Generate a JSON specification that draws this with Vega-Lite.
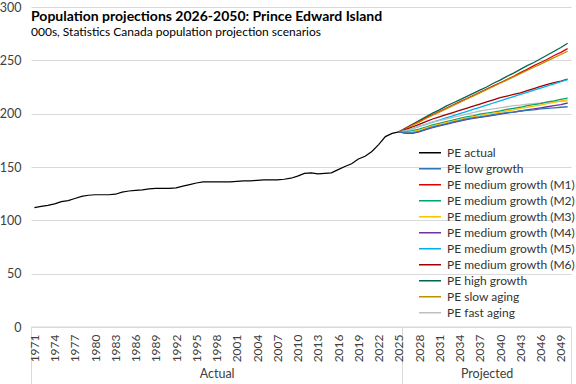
{
  "$schema": "https://vega.github.io/schema/vega-lite/v6.json",
  "autosize": "none",
  "width": 540,
  "height": 320,
  "padding": {"left": 31, "top": 7, "right": 5, "bottom": 57},
  "background": "white",
  "config": {
    "view": {"stroke": null},
    "font": "Lato",
    "axis": {"labelFont": "Lato", "labelColor": "#404040"},
    "legend": {"labelFont": "Lato"}
  },
  "title": {
    "text": "Population projections 2026-2050: Prince Edward Island",
    "subtitle": "000s, Statistics Canada population projection scenarios",
    "anchor": "start",
    "frame": "group",
    "orient": "top",
    "offset": -37,
    "font": "Lato",
    "fontSize": 14,
    "fontWeight": "bold",
    "color": "#000000",
    "subtitleFont": "Lato",
    "subtitleFontSize": 12,
    "subtitleColor": "#000000",
    "subtitlePadding": 3
  },
  "datasets": {
    "actual": [
      {"year": 1971, "value": 112.0, "series": "PE actual"},
      {"year": 1972, "value": 113.0, "series": "PE actual"},
      {"year": 1973, "value": 114.0, "series": "PE actual"},
      {"year": 1974, "value": 115.5, "series": "PE actual"},
      {"year": 1975, "value": 117.5, "series": "PE actual"},
      {"year": 1976, "value": 118.5, "series": "PE actual"},
      {"year": 1977, "value": 120.5, "series": "PE actual"},
      {"year": 1978, "value": 122.5, "series": "PE actual"},
      {"year": 1979, "value": 123.5, "series": "PE actual"},
      {"year": 1980, "value": 124.0, "series": "PE actual"},
      {"year": 1981, "value": 124.0, "series": "PE actual"},
      {"year": 1982, "value": 124.0, "series": "PE actual"},
      {"year": 1983, "value": 124.5, "series": "PE actual"},
      {"year": 1984, "value": 126.5, "series": "PE actual"},
      {"year": 1985, "value": 127.5, "series": "PE actual"},
      {"year": 1986, "value": 128.0, "series": "PE actual"},
      {"year": 1987, "value": 128.5, "series": "PE actual"},
      {"year": 1988, "value": 129.5, "series": "PE actual"},
      {"year": 1989, "value": 130.0, "series": "PE actual"},
      {"year": 1990, "value": 130.0, "series": "PE actual"},
      {"year": 1991, "value": 130.0, "series": "PE actual"},
      {"year": 1992, "value": 130.5, "series": "PE actual"},
      {"year": 1993, "value": 132.0, "series": "PE actual"},
      {"year": 1994, "value": 133.5, "series": "PE actual"},
      {"year": 1995, "value": 135.0, "series": "PE actual"},
      {"year": 1996, "value": 136.0, "series": "PE actual"},
      {"year": 1997, "value": 136.0, "series": "PE actual"},
      {"year": 1998, "value": 136.0, "series": "PE actual"},
      {"year": 1999, "value": 136.0, "series": "PE actual"},
      {"year": 2000, "value": 136.0, "series": "PE actual"},
      {"year": 2001, "value": 136.5, "series": "PE actual"},
      {"year": 2002, "value": 137.0, "series": "PE actual"},
      {"year": 2003, "value": 137.0, "series": "PE actual"},
      {"year": 2004, "value": 137.5, "series": "PE actual"},
      {"year": 2005, "value": 138.0, "series": "PE actual"},
      {"year": 2006, "value": 138.0, "series": "PE actual"},
      {"year": 2007, "value": 138.0, "series": "PE actual"},
      {"year": 2008, "value": 138.5, "series": "PE actual"},
      {"year": 2009, "value": 139.5, "series": "PE actual"},
      {"year": 2010, "value": 141.5, "series": "PE actual"},
      {"year": 2011, "value": 144.0, "series": "PE actual"},
      {"year": 2012, "value": 144.5, "series": "PE actual"},
      {"year": 2013, "value": 143.5, "series": "PE actual"},
      {"year": 2014, "value": 144.0, "series": "PE actual"},
      {"year": 2015, "value": 144.5, "series": "PE actual"},
      {"year": 2016, "value": 147.5, "series": "PE actual"},
      {"year": 2017, "value": 150.5, "series": "PE actual"},
      {"year": 2018, "value": 153.0, "series": "PE actual"},
      {"year": 2019, "value": 157.5, "series": "PE actual"},
      {"year": 2020, "value": 160.0, "series": "PE actual"},
      {"year": 2021, "value": 164.5, "series": "PE actual"},
      {"year": 2022, "value": 171.0, "series": "PE actual"},
      {"year": 2023, "value": 178.5, "series": "PE actual"},
      {"year": 2024, "value": 181.5, "series": "PE actual"},
      {"year": 2025, "value": 183.0, "series": "PE actual"}
    ],
    "proj": [
      {"series": "PE high growth", "year": 2025, "value": 183.0},
      {"series": "PE high growth", "year": 2026, "value": 186.5},
      {"series": "PE high growth", "year": 2027, "value": 190.0},
      {"series": "PE high growth", "year": 2028, "value": 193.5},
      {"series": "PE high growth", "year": 2029, "value": 197.0},
      {"series": "PE high growth", "year": 2030, "value": 200.5},
      {"series": "PE high growth", "year": 2031, "value": 203.5},
      {"series": "PE high growth", "year": 2032, "value": 207.0},
      {"series": "PE high growth", "year": 2033, "value": 210.0},
      {"series": "PE high growth", "year": 2034, "value": 213.0},
      {"series": "PE high growth", "year": 2035, "value": 216.0},
      {"series": "PE high growth", "year": 2036, "value": 219.0},
      {"series": "PE high growth", "year": 2037, "value": 222.0},
      {"series": "PE high growth", "year": 2038, "value": 225.0},
      {"series": "PE high growth", "year": 2039, "value": 228.5},
      {"series": "PE high growth", "year": 2040, "value": 231.5},
      {"series": "PE high growth", "year": 2041, "value": 235.0},
      {"series": "PE high growth", "year": 2042, "value": 238.0},
      {"series": "PE high growth", "year": 2043, "value": 241.5},
      {"series": "PE high growth", "year": 2044, "value": 245.0},
      {"series": "PE high growth", "year": 2045, "value": 248.0},
      {"series": "PE high growth", "year": 2046, "value": 251.5},
      {"series": "PE high growth", "year": 2047, "value": 255.0},
      {"series": "PE high growth", "year": 2048, "value": 258.5},
      {"series": "PE high growth", "year": 2049, "value": 262.0},
      {"series": "PE high growth", "year": 2050, "value": 266.0},

      {"series": "PE medium growth (M1)", "year": 2025, "value": 183.0},
      {"series": "PE medium growth (M1)", "year": 2026, "value": 186.0},
      {"series": "PE medium growth (M1)", "year": 2027, "value": 189.5},
      {"series": "PE medium growth (M1)", "year": 2028, "value": 192.5},
      {"series": "PE medium growth (M1)", "year": 2029, "value": 196.0},
      {"series": "PE medium growth (M1)", "year": 2030, "value": 199.0},
      {"series": "PE medium growth (M1)", "year": 2031, "value": 202.0},
      {"series": "PE medium growth (M1)", "year": 2032, "value": 205.0},
      {"series": "PE medium growth (M1)", "year": 2033, "value": 208.0},
      {"series": "PE medium growth (M1)", "year": 2034, "value": 211.0},
      {"series": "PE medium growth (M1)", "year": 2035, "value": 214.0},
      {"series": "PE medium growth (M1)", "year": 2036, "value": 217.0},
      {"series": "PE medium growth (M1)", "year": 2037, "value": 220.0},
      {"series": "PE medium growth (M1)", "year": 2038, "value": 223.0},
      {"series": "PE medium growth (M1)", "year": 2039, "value": 226.0},
      {"series": "PE medium growth (M1)", "year": 2040, "value": 229.0},
      {"series": "PE medium growth (M1)", "year": 2041, "value": 232.0},
      {"series": "PE medium growth (M1)", "year": 2042, "value": 235.0},
      {"series": "PE medium growth (M1)", "year": 2043, "value": 238.5},
      {"series": "PE medium growth (M1)", "year": 2044, "value": 241.5},
      {"series": "PE medium growth (M1)", "year": 2045, "value": 245.0},
      {"series": "PE medium growth (M1)", "year": 2046, "value": 248.0},
      {"series": "PE medium growth (M1)", "year": 2047, "value": 251.0},
      {"series": "PE medium growth (M1)", "year": 2048, "value": 254.5},
      {"series": "PE medium growth (M1)", "year": 2049, "value": 257.5},
      {"series": "PE medium growth (M1)", "year": 2050, "value": 261.0},

      {"series": "PE slow aging", "year": 2025, "value": 183.0},
      {"series": "PE slow aging", "year": 2026, "value": 185.5},
      {"series": "PE slow aging", "year": 2027, "value": 189.0},
      {"series": "PE slow aging", "year": 2028, "value": 192.0},
      {"series": "PE slow aging", "year": 2029, "value": 195.5},
      {"series": "PE slow aging", "year": 2030, "value": 198.5},
      {"series": "PE slow aging", "year": 2031, "value": 201.5},
      {"series": "PE slow aging", "year": 2032, "value": 204.5},
      {"series": "PE slow aging", "year": 2033, "value": 207.5},
      {"series": "PE slow aging", "year": 2034, "value": 210.5},
      {"series": "PE slow aging", "year": 2035, "value": 213.5},
      {"series": "PE slow aging", "year": 2036, "value": 216.5},
      {"series": "PE slow aging", "year": 2037, "value": 219.5},
      {"series": "PE slow aging", "year": 2038, "value": 222.5},
      {"series": "PE slow aging", "year": 2039, "value": 225.5},
      {"series": "PE slow aging", "year": 2040, "value": 228.5},
      {"series": "PE slow aging", "year": 2041, "value": 231.5},
      {"series": "PE slow aging", "year": 2042, "value": 234.5},
      {"series": "PE slow aging", "year": 2043, "value": 237.5},
      {"series": "PE slow aging", "year": 2044, "value": 240.5},
      {"series": "PE slow aging", "year": 2045, "value": 243.5},
      {"series": "PE slow aging", "year": 2046, "value": 246.5},
      {"series": "PE slow aging", "year": 2047, "value": 249.5},
      {"series": "PE slow aging", "year": 2048, "value": 252.5},
      {"series": "PE slow aging", "year": 2049, "value": 255.5},
      {"series": "PE slow aging", "year": 2050, "value": 258.5},

      {"series": "PE medium growth (M6)", "year": 2025, "value": 183.0},
      {"series": "PE medium growth (M6)", "year": 2026, "value": 185.0},
      {"series": "PE medium growth (M6)", "year": 2027, "value": 187.5},
      {"series": "PE medium growth (M6)", "year": 2028, "value": 190.0},
      {"series": "PE medium growth (M6)", "year": 2029, "value": 192.5},
      {"series": "PE medium growth (M6)", "year": 2030, "value": 195.0},
      {"series": "PE medium growth (M6)", "year": 2031, "value": 197.0},
      {"series": "PE medium growth (M6)", "year": 2032, "value": 199.0},
      {"series": "PE medium growth (M6)", "year": 2033, "value": 201.0},
      {"series": "PE medium growth (M6)", "year": 2034, "value": 203.0},
      {"series": "PE medium growth (M6)", "year": 2035, "value": 205.0},
      {"series": "PE medium growth (M6)", "year": 2036, "value": 207.0},
      {"series": "PE medium growth (M6)", "year": 2037, "value": 209.0},
      {"series": "PE medium growth (M6)", "year": 2038, "value": 211.0},
      {"series": "PE medium growth (M6)", "year": 2039, "value": 213.0},
      {"series": "PE medium growth (M6)", "year": 2040, "value": 215.0},
      {"series": "PE medium growth (M6)", "year": 2041, "value": 216.5},
      {"series": "PE medium growth (M6)", "year": 2042, "value": 218.0},
      {"series": "PE medium growth (M6)", "year": 2043, "value": 219.5},
      {"series": "PE medium growth (M6)", "year": 2044, "value": 221.5},
      {"series": "PE medium growth (M6)", "year": 2045, "value": 223.5},
      {"series": "PE medium growth (M6)", "year": 2046, "value": 225.5},
      {"series": "PE medium growth (M6)", "year": 2047, "value": 227.5},
      {"series": "PE medium growth (M6)", "year": 2048, "value": 229.0},
      {"series": "PE medium growth (M6)", "year": 2049, "value": 230.5},
      {"series": "PE medium growth (M6)", "year": 2050, "value": 232.5},

      {"series": "PE medium growth (M5)", "year": 2025, "value": 183.0},
      {"series": "PE medium growth (M5)", "year": 2026, "value": 184.0},
      {"series": "PE medium growth (M5)", "year": 2027, "value": 186.0},
      {"series": "PE medium growth (M5)", "year": 2028, "value": 188.0},
      {"series": "PE medium growth (M5)", "year": 2029, "value": 190.0},
      {"series": "PE medium growth (M5)", "year": 2030, "value": 192.0},
      {"series": "PE medium growth (M5)", "year": 2031, "value": 194.0},
      {"series": "PE medium growth (M5)", "year": 2032, "value": 196.0},
      {"series": "PE medium growth (M5)", "year": 2033, "value": 198.0},
      {"series": "PE medium growth (M5)", "year": 2034, "value": 200.0},
      {"series": "PE medium growth (M5)", "year": 2035, "value": 202.0},
      {"series": "PE medium growth (M5)", "year": 2036, "value": 204.0},
      {"series": "PE medium growth (M5)", "year": 2037, "value": 206.0},
      {"series": "PE medium growth (M5)", "year": 2038, "value": 208.0},
      {"series": "PE medium growth (M5)", "year": 2039, "value": 210.0},
      {"series": "PE medium growth (M5)", "year": 2040, "value": 212.0},
      {"series": "PE medium growth (M5)", "year": 2041, "value": 214.0},
      {"series": "PE medium growth (M5)", "year": 2042, "value": 216.0},
      {"series": "PE medium growth (M5)", "year": 2043, "value": 218.0},
      {"series": "PE medium growth (M5)", "year": 2044, "value": 220.0},
      {"series": "PE medium growth (M5)", "year": 2045, "value": 222.0},
      {"series": "PE medium growth (M5)", "year": 2046, "value": 224.0},
      {"series": "PE medium growth (M5)", "year": 2047, "value": 226.0},
      {"series": "PE medium growth (M5)", "year": 2048, "value": 228.0},
      {"series": "PE medium growth (M5)", "year": 2049, "value": 230.0},
      {"series": "PE medium growth (M5)", "year": 2050, "value": 232.0},

      {"series": "PE fast aging", "year": 2025, "value": 183.0},
      {"series": "PE fast aging", "year": 2026, "value": 184.0},
      {"series": "PE fast aging", "year": 2027, "value": 186.0},
      {"series": "PE fast aging", "year": 2028, "value": 188.0},
      {"series": "PE fast aging", "year": 2029, "value": 190.0},
      {"series": "PE fast aging", "year": 2030, "value": 192.0},
      {"series": "PE fast aging", "year": 2031, "value": 193.5},
      {"series": "PE fast aging", "year": 2032, "value": 195.0},
      {"series": "PE fast aging", "year": 2033, "value": 196.5},
      {"series": "PE fast aging", "year": 2034, "value": 198.0},
      {"series": "PE fast aging", "year": 2035, "value": 199.5},
      {"series": "PE fast aging", "year": 2036, "value": 201.0},
      {"series": "PE fast aging", "year": 2037, "value": 202.5},
      {"series": "PE fast aging", "year": 2038, "value": 203.5},
      {"series": "PE fast aging", "year": 2039, "value": 204.5},
      {"series": "PE fast aging", "year": 2040, "value": 205.5},
      {"series": "PE fast aging", "year": 2041, "value": 206.5},
      {"series": "PE fast aging", "year": 2042, "value": 207.5},
      {"series": "PE fast aging", "year": 2043, "value": 208.0},
      {"series": "PE fast aging", "year": 2044, "value": 209.0},
      {"series": "PE fast aging", "year": 2045, "value": 209.5},
      {"series": "PE fast aging", "year": 2046, "value": 210.0},
      {"series": "PE fast aging", "year": 2047, "value": 210.5},
      {"series": "PE fast aging", "year": 2048, "value": 211.0},
      {"series": "PE fast aging", "year": 2049, "value": 211.5},
      {"series": "PE fast aging", "year": 2050, "value": 212.0},

      {"series": "PE medium growth (M2)", "year": 2025, "value": 183.0},
      {"series": "PE medium growth (M2)", "year": 2026, "value": 183.0},
      {"series": "PE medium growth (M2)", "year": 2027, "value": 184.0},
      {"series": "PE medium growth (M2)", "year": 2028, "value": 185.5},
      {"series": "PE medium growth (M2)", "year": 2029, "value": 187.5},
      {"series": "PE medium growth (M2)", "year": 2030, "value": 189.5},
      {"series": "PE medium growth (M2)", "year": 2031, "value": 191.0},
      {"series": "PE medium growth (M2)", "year": 2032, "value": 192.5},
      {"series": "PE medium growth (M2)", "year": 2033, "value": 194.0},
      {"series": "PE medium growth (M2)", "year": 2034, "value": 195.5},
      {"series": "PE medium growth (M2)", "year": 2035, "value": 197.0},
      {"series": "PE medium growth (M2)", "year": 2036, "value": 198.0},
      {"series": "PE medium growth (M2)", "year": 2037, "value": 199.5},
      {"series": "PE medium growth (M2)", "year": 2038, "value": 200.5},
      {"series": "PE medium growth (M2)", "year": 2039, "value": 201.5},
      {"series": "PE medium growth (M2)", "year": 2040, "value": 202.5},
      {"series": "PE medium growth (M2)", "year": 2041, "value": 204.0},
      {"series": "PE medium growth (M2)", "year": 2042, "value": 205.0},
      {"series": "PE medium growth (M2)", "year": 2043, "value": 206.0},
      {"series": "PE medium growth (M2)", "year": 2044, "value": 207.5},
      {"series": "PE medium growth (M2)", "year": 2045, "value": 208.5},
      {"series": "PE medium growth (M2)", "year": 2046, "value": 209.5},
      {"series": "PE medium growth (M2)", "year": 2047, "value": 211.0},
      {"series": "PE medium growth (M2)", "year": 2048, "value": 212.0},
      {"series": "PE medium growth (M2)", "year": 2049, "value": 213.5},
      {"series": "PE medium growth (M2)", "year": 2050, "value": 214.5},

      {"series": "PE medium growth (M3)", "year": 2025, "value": 183.0},
      {"series": "PE medium growth (M3)", "year": 2026, "value": 182.5},
      {"series": "PE medium growth (M3)", "year": 2027, "value": 183.0},
      {"series": "PE medium growth (M3)", "year": 2028, "value": 184.5},
      {"series": "PE medium growth (M3)", "year": 2029, "value": 186.5},
      {"series": "PE medium growth (M3)", "year": 2030, "value": 188.5},
      {"series": "PE medium growth (M3)", "year": 2031, "value": 190.0},
      {"series": "PE medium growth (M3)", "year": 2032, "value": 191.5},
      {"series": "PE medium growth (M3)", "year": 2033, "value": 193.0},
      {"series": "PE medium growth (M3)", "year": 2034, "value": 194.5},
      {"series": "PE medium growth (M3)", "year": 2035, "value": 196.0},
      {"series": "PE medium growth (M3)", "year": 2036, "value": 197.0},
      {"series": "PE medium growth (M3)", "year": 2037, "value": 198.0},
      {"series": "PE medium growth (M3)", "year": 2038, "value": 199.5},
      {"series": "PE medium growth (M3)", "year": 2039, "value": 200.5},
      {"series": "PE medium growth (M3)", "year": 2040, "value": 201.5},
      {"series": "PE medium growth (M3)", "year": 2041, "value": 202.5},
      {"series": "PE medium growth (M3)", "year": 2042, "value": 203.5},
      {"series": "PE medium growth (M3)", "year": 2043, "value": 205.0},
      {"series": "PE medium growth (M3)", "year": 2044, "value": 206.0},
      {"series": "PE medium growth (M3)", "year": 2045, "value": 207.0},
      {"series": "PE medium growth (M3)", "year": 2046, "value": 208.0},
      {"series": "PE medium growth (M3)", "year": 2047, "value": 209.5},
      {"series": "PE medium growth (M3)", "year": 2048, "value": 210.5},
      {"series": "PE medium growth (M3)", "year": 2049, "value": 212.0},
      {"series": "PE medium growth (M3)", "year": 2050, "value": 213.0},

      {"series": "PE medium growth (M4)", "year": 2025, "value": 183.0},
      {"series": "PE medium growth (M4)", "year": 2026, "value": 181.5},
      {"series": "PE medium growth (M4)", "year": 2027, "value": 181.5},
      {"series": "PE medium growth (M4)", "year": 2028, "value": 183.0},
      {"series": "PE medium growth (M4)", "year": 2029, "value": 185.0},
      {"series": "PE medium growth (M4)", "year": 2030, "value": 187.0},
      {"series": "PE medium growth (M4)", "year": 2031, "value": 188.5},
      {"series": "PE medium growth (M4)", "year": 2032, "value": 190.0},
      {"series": "PE medium growth (M4)", "year": 2033, "value": 191.5},
      {"series": "PE medium growth (M4)", "year": 2034, "value": 193.0},
      {"series": "PE medium growth (M4)", "year": 2035, "value": 194.5},
      {"series": "PE medium growth (M4)", "year": 2036, "value": 195.5},
      {"series": "PE medium growth (M4)", "year": 2037, "value": 196.5},
      {"series": "PE medium growth (M4)", "year": 2038, "value": 197.5},
      {"series": "PE medium growth (M4)", "year": 2039, "value": 198.5},
      {"series": "PE medium growth (M4)", "year": 2040, "value": 199.5},
      {"series": "PE medium growth (M4)", "year": 2041, "value": 200.5},
      {"series": "PE medium growth (M4)", "year": 2042, "value": 201.5},
      {"series": "PE medium growth (M4)", "year": 2043, "value": 202.5},
      {"series": "PE medium growth (M4)", "year": 2044, "value": 203.5},
      {"series": "PE medium growth (M4)", "year": 2045, "value": 204.5},
      {"series": "PE medium growth (M4)", "year": 2046, "value": 205.5},
      {"series": "PE medium growth (M4)", "year": 2047, "value": 206.5},
      {"series": "PE medium growth (M4)", "year": 2048, "value": 207.5},
      {"series": "PE medium growth (M4)", "year": 2049, "value": 208.5},
      {"series": "PE medium growth (M4)", "year": 2050, "value": 210.0},

      {"series": "PE low growth", "year": 2025, "value": 183.0},
      {"series": "PE low growth", "year": 2026, "value": 182.0},
      {"series": "PE low growth", "year": 2027, "value": 182.0},
      {"series": "PE low growth", "year": 2028, "value": 183.5},
      {"series": "PE low growth", "year": 2029, "value": 185.5},
      {"series": "PE low growth", "year": 2030, "value": 187.5},
      {"series": "PE low growth", "year": 2031, "value": 189.0},
      {"series": "PE low growth", "year": 2032, "value": 190.5},
      {"series": "PE low growth", "year": 2033, "value": 192.0},
      {"series": "PE low growth", "year": 2034, "value": 193.5},
      {"series": "PE low growth", "year": 2035, "value": 195.0},
      {"series": "PE low growth", "year": 2036, "value": 196.0},
      {"series": "PE low growth", "year": 2037, "value": 197.0},
      {"series": "PE low growth", "year": 2038, "value": 198.0},
      {"series": "PE low growth", "year": 2039, "value": 199.0},
      {"series": "PE low growth", "year": 2040, "value": 200.0},
      {"series": "PE low growth", "year": 2041, "value": 201.0},
      {"series": "PE low growth", "year": 2042, "value": 201.5},
      {"series": "PE low growth", "year": 2043, "value": 202.5},
      {"series": "PE low growth", "year": 2044, "value": 203.0},
      {"series": "PE low growth", "year": 2045, "value": 203.5},
      {"series": "PE low growth", "year": 2046, "value": 204.5},
      {"series": "PE low growth", "year": 2047, "value": 205.0},
      {"series": "PE low growth", "year": 2048, "value": 205.5},
      {"series": "PE low growth", "year": 2049, "value": 206.0},
      {"series": "PE low growth", "year": 2050, "value": 206.5}
    ],
    "baseline": [{"start": 1970.5, "end": 2050.5, "zero": 0}]
  },
  "resolve": {"axis": {"x": "independent"}},
  "layer": [
    {
      "data": {"name": "baseline"},
      "mark": {"type": "rule", "color": "#d9d9d9", "strokeWidth": 1},
      "encoding": {
        "x": {
          "field": "start", "type": "quantitative",
          "scale": {"domain": [1970.5, 2050.5], "nice": false, "zero": false},
          "axis": {"orient": "bottom", "values": [1970.5, 2025.5, 2050.5], "labels": false, "ticks": true, "tickSize": 57, "tickColor": "#d9d9d9", "domain": false, "grid": false, "title": null}
        },
        "x2": {"field": "end"},
        "y": {
          "field": "zero", "type": "quantitative",
          "scale": {"domain": [0, 300], "nice": false},
          "axis": {"values": [0, 50, 100, 150, 200, 250, 300], "title": null, "domain": false, "ticks": false, "grid": true, "gridColor": "#d9d9d9", "labelFontSize": 12.5, "labelPadding": 10, "labelColor": "#404040"}
        }
      }
    },
    {
      "data": {"name": "proj"},
      "mark": {"type": "line", "strokeWidth": 1.3},
      "encoding": {
        "x": {
          "field": "year", "type": "quantitative",
          "axis": {"orient": "bottom", "values": [1998, 2038], "labelExpr": "datum.value < 2020 ? 'Actual' : 'Projected'", "ticks": false, "domain": false, "grid": false, "labelPadding": 40, "labelFontSize": 12.5, "labelColor": "#404040", "title": null}
        },
        "y": {"field": "value", "type": "quantitative"},
        "color": {"field": "series", "type": "nominal"}
      }
    },
    {
      "data": {"name": "actual"},
      "mark": {"type": "line", "strokeWidth": 1.2},
      "encoding": {
        "x": {
          "field": "year", "type": "quantitative",
          "axis": {"orient": "bottom", "values": [1971, 1974, 1977, 1980, 1983, 1986, 1989, 1992, 1995, 1998, 2001, 2004, 2007, 2010, 2013, 2016, 2019, 2022, 2025, 2028, 2031, 2034, 2037, 2040, 2043, 2046, 2049], "format": "d", "labelAngle": 270, "labelAlign": "right", "labelBaseline": "middle", "labelPadding": 7, "labelFontSize": 12, "labelColor": "#404040", "ticks": false, "domain": false, "grid": false, "title": null, "labelOverlap": false}
        },
        "y": {"field": "value", "type": "quantitative"},
        "color": {
          "field": "series", "type": "nominal",
          "scale": {
            "domain": ["PE actual", "PE low growth", "PE medium growth (M1)", "PE medium growth (M2)", "PE medium growth (M3)", "PE medium growth (M4)", "PE medium growth (M5)", "PE medium growth (M6)", "PE high growth", "PE slow aging", "PE fast aging"],
            "range": ["#000000", "#2F75B5", "#E00000", "#00A36C", "#FFC000", "#7030A0", "#00B0F0", "#A00000", "#00664F", "#BF9000", "#BFBFBF"]
          },
          "legend": {
            "title": null, "orient": "none", "legendX": 387, "legendY": 138,
            "symbolType": "stroke", "symbolSize": 484, "symbolStrokeWidth": 1.3,
            "clipHeight": 15.5, "rowPadding": 0,
            "labelFontSize": 12, "labelColor": "#333333", "labelOffset": 5
          }
        }
      }
    }
  ]
}
